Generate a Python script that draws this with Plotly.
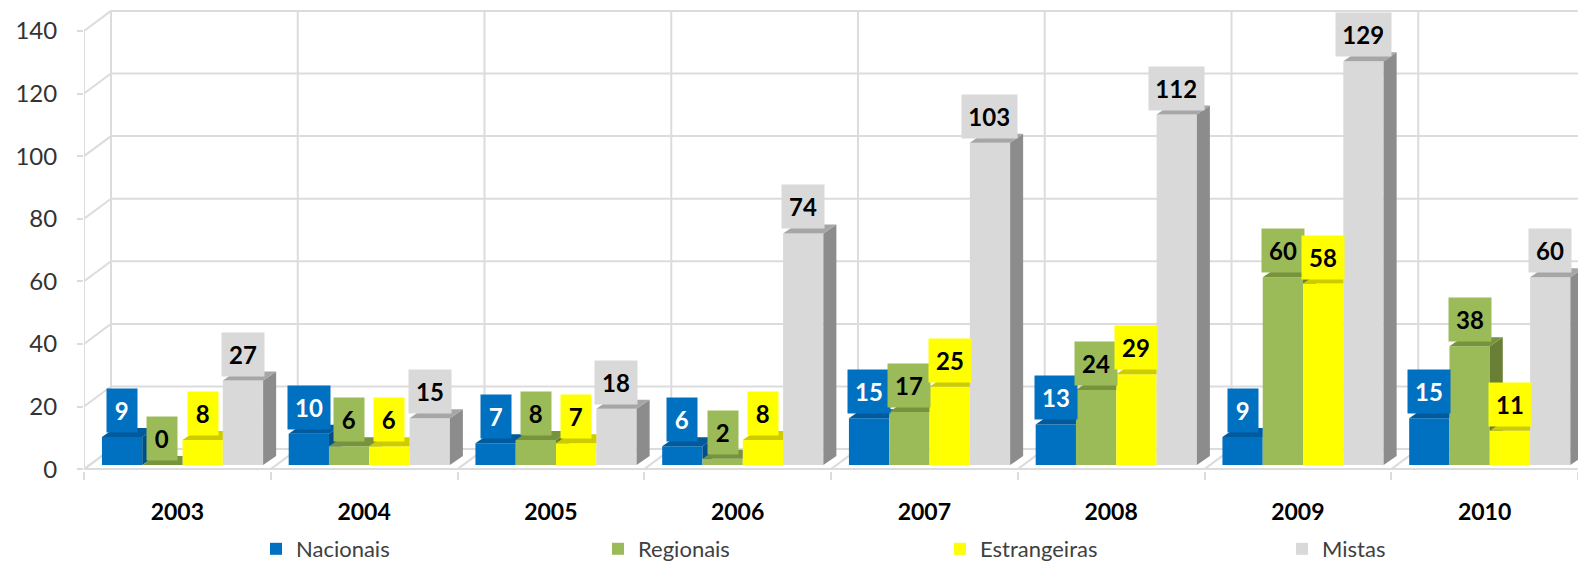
import plotly.graph_objects as go

# ---------------- data ----------------
years = ["2003", "2004", "2005", "2006", "2007", "2008", "2009", "2010"]
series_names = ["Nacionais", "Regionais", "Estrangeiras", "Mistas"]
nacionais = [9, 10, 7, 6, 15, 13, 9, 15]
regionais = [0, 6, 8, 2, 17, 24, 60, 38]
estrangeiras = [8, 6, 7, 8, 25, 29, 58, 11]
mistas = [27, 15, 18, 74, 103, 112, 129, 60]
y_ticks = [0, 20, 40, 60, 80, 100, 120, 140]

# ---------------- style ----------------
FONT = "Lato"
front_col = ["#0070C0", "#9BBB59", "#FFFF00", "#D9D9D9"]
top_col = ["#005A9C", "#77933C", "#CCCC00", "#A6A6A6"]
side_col = ["#004F8A", "#687F35", "#B5B500", "#8C8C8C"]
label_font_col = ["white", "black", "black", "black"]
GRID = "#DCDCDC"

# page body has an 8px margin: figure is sized / positioned to compensate
W, H = 1578, 555
PX_X = 186.75            # px per category
PX_Y = 3.1286            # px per value unit
X0_PX = 76               # pixel of x = -0.5 (figure coords)
Y0_PX = 461              # pixel of y = 0 (figure coords)
y_lo, y_hi = -0.6, 147.0
x_lo = -0.5
x_hi = x_lo + (W - X0_PX) / PX_X

DX = 27 / PX_X           # back-wall depth offset
DY = 20 / PX_Y
BW = 40.3 / PX_X         # bar width
G_OFF = -0.404           # group left offset from category centre
BASE = 4 / PX_Y          # bars sit slightly behind the front plane
ddx = 13 / PX_X          # bar depth
ddy = 9 / PX_Y

all_series = [nacionais, regionais, estrangeiras, mistas]

fig = go.Figure()

# front faces (bars)
for k, vals in enumerate(all_series):
    xs = [i + G_OFF + BW * (k + 0.5) for i in range(len(years))]
    fig.add_trace(go.Bar(
        x=xs, y=vals, base=BASE, width=BW, name=series_names[k],
        marker=dict(color=front_col[k], line=dict(width=0)),
        hoverinfo="skip"))


def clip_above(poly, y0):
    """Sutherland-Hodgman clip of polygon to half-plane y >= y0."""
    out = []
    n = len(poly)
    for i in range(n):
        cx, cy = poly[i]
        px, py = poly[i - 1]
        cin, pin = cy >= y0, py >= y0
        if cin:
            if not pin:
                t = (y0 - py) / (cy - py)
                out.append((px + t * (cx - px), y0))
            out.append((cx, cy))
        elif pin:
            t = (y0 - py) / (cy - py)
            out.append((px + t * (cx - px), y0))
    return out


def top_poly(x0, x1, V, Y0):
    if Y0 is None or Y0 <= V:
        return [(x0, V), (x1, V), (x1 + ddx, V + ddy), (x0 + ddx, V + ddy)]
    if Y0 >= V + ddy:
        return [(x0, V), (x1, V), (x1, V + ddy), (x0 + ddx, V + ddy)]
    return [(x0, V), (x1, V), (x1, Y0), (x1 + (Y0 - V) * ddx / ddy, Y0),
            (x1 + ddx, V + ddy), (x0 + ddx, V + ddy)]


for k, vals in enumerate(all_series):
    sx, sy, tx, ty = [], [], [], []
    for i, v in enumerate(vals):
        x0 = i + G_OFF + BW * k
        x1 = x0 + BW
        V = v + BASE
        Y0 = None if k == 3 else all_series[k + 1][i] + BASE
        side = [(x1, BASE), (x1, V), (x1 + ddx, V + ddy), (x1 + ddx, BASE + ddy)]
        if Y0 is not None:
            side = clip_above(side, Y0)
        if len(side) >= 3:
            sx += [p[0] for p in side] + [side[0][0], None]
            sy += [p[1] for p in side] + [side[0][1], None]
        tp = top_poly(x0, x1, V, Y0)
        tx += [p[0] for p in tp] + [tp[0][0], None]
        ty += [p[1] for p in tp] + [tp[0][1], None]
    if sx:
        fig.add_trace(go.Scatter(x=sx, y=sy, mode="none", fill="toself",
                                 fillcolor=side_col[k], showlegend=False,
                                 hoverinfo="skip"))
    fig.add_trace(go.Scatter(x=tx, y=ty, mode="none", fill="toself",
                             fillcolor=top_col[k], showlegend=False,
                             hoverinfo="skip"))

# data labels
for k, vals in enumerate(all_series):
    for i, v in enumerate(vals):
        txt = "%d" % v
        fig.add_annotation(
            x=i + G_OFF + BW * (k + 0.5), y=v + BASE, xref="x", yref="y",
            text="<b>%s</b>" % txt, showarrow=False, yanchor="bottom",
            xanchor="center", yshift=4, bgcolor=front_col[k], borderpad=7,
            width=3 + 12.5 * len(txt), align="center",
            font=dict(family=FONT, size=24, color=label_font_col[k]))

# back wall / floor / side wall decoration
shapes = []
line = dict(color=GRID, width=2)
for v in y_ticks:
    shapes.append(dict(type="line", xref="x", yref="y", x0=x_lo + DX, x1=x_hi + 1,
                       y0=v + DY, y1=v + DY, line=line, layer="below"))
    shapes.append(dict(type="line", xref="x", yref="y", x0=x_lo, x1=x_lo + DX,
                       y0=v, y1=v + DY, line=line, layer="below"))
for j in range(len(years) + 1):
    xb = j - 0.5
    shapes.append(dict(type="line", xref="x", yref="y", x0=xb + DX, x1=xb + DX,
                       y0=DY, y1=y_ticks[-1] + DY, line=line, layer="below"))
    shapes.append(dict(type="line", xref="x", yref="y", x0=xb, x1=xb + DX,
                       y0=0, y1=DY, line=line, layer="below"))
shapes.append(dict(type="line", xref="x", yref="y", x0=x_lo, x1=x_lo,
                   y0=0, y1=y_ticks[-1], line=line, layer="below"))
shapes.append(dict(type="line", xref="x", yref="y", x0=x_lo, x1=len(years) - 0.5,
                   y0=0, y1=0, line=line, layer="below"))

fig.update_layout(
    width=W, height=H,
    margin=dict(l=X0_PX, r=0, t=max(0.0, Y0_PX - y_hi * PX_Y),
                b=H - (Y0_PX - y_lo * PX_Y), pad=0, autoexpand=False),
    paper_bgcolor="white", plot_bgcolor="white",
    barmode="overlay", shapes=shapes,
    font=dict(family=FONT, color="#404040"),
    xaxis=dict(range=[x_lo, x_hi], tickvals=list(range(len(years))),
               ticktext=["<b>%s</b>" % y for y in years],
               tickfont=dict(family=FONT, size=23, color="black"),
               showgrid=False, zeroline=False, showline=False, ticks="",
               ticklabelstandoff=25,
               minor=dict(tickvals=[j - 0.5 for j in range(len(years) + 1)],
                          ticks="outside", ticklen=8, tickcolor=GRID,
                          tickwidth=2, showgrid=False)),
    yaxis=dict(range=[y_lo, y_hi], tickvals=y_ticks, showgrid=False,
               zeroline=False, showline=False, ticks="outside", ticklen=6,
               tickcolor=GRID, tickwidth=2, ticklabelstandoff=15,
               tickfont=dict(family=FONT, size=24, color="#333333")),
    legend=dict(orientation="h", xref="container", yref="container",
                x=248 / W, y=1 - 541 / H, xanchor="left", yanchor="middle",
                entrywidth=297, font=dict(family=FONT, size=22, color="#404040"),
                bgcolor="rgba(0,0,0,0)"),
    showlegend=True,
)

fig.write_html("out.html")
